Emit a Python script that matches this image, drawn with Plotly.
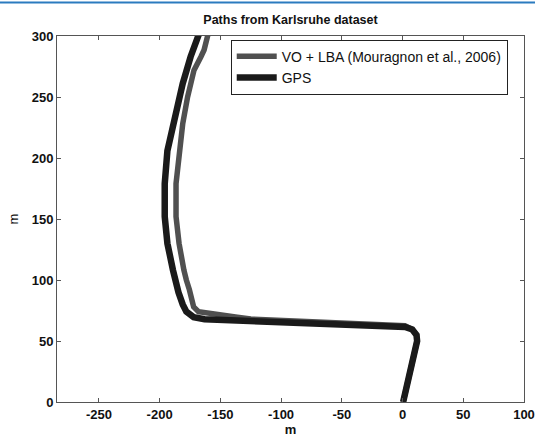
import plotly.graph_objects as go

# GPS ground-truth path (m)
gps_x = [0.5, 3, 5.5, 8, 10, 12, 11.5, 8, 2, -25, -55, -80, -105, -138, -163, -172,
         -178, -181, -184.5, -189, -193.6, -195.8, -195.8, -193.6, -191, -187, -181,
         -174.5, -167.5, -166]
gps_y = [0, 10, 20, 30, 40, 50, 55, 59.5, 61.5, 62.5, 63.5, 64.5, 65.5, 66.7, 67.8, 69.5,
         74, 80, 90, 108, 130, 152, 179, 206, 217, 239, 261, 283, 302, 306]

# VO + LBA path (m)
vo_x = [0.5, 3, 5.5, 8, 10, 12, 11.5, 8, 2, -25, -55, -80, -105, -125, -136, -152, -163,
        -168, -172, -174, -175.5, -178, -180, -184, -186.5, -186.5, -184, -181, -177,
        -171.7, -166, -163.4, -160, -159]
vo_y = [0, 10, 20, 30, 40, 50, 55, 59.5, 62.5, 63.5, 64.5, 65.5, 66.5, 68, 69.4, 71.3, 72.5,
        74, 78, 84, 92, 100, 108, 130, 152, 179, 206, 228, 250, 272, 283, 288.5, 302, 306]

x_ticks = [-250, -200, -150, -100, -50, 0, 50, 100]
x_tick_text = ["-250", "-200", "-150", "-100", "-50", "0", "50", "100"]
y_ticks = [0, 50, 100, 150, 200, 250, 300]
y_tick_text = ["0", "50", "100", "150", "200", "250", "300"]

FONT = "Liberation Sans, Arial, sans-serif"

fig = go.Figure()
fig.add_trace(go.Scatter(x=vo_x, y=vo_y, mode="lines",
                         name="VO + LBA (Mouragnon et al., 2006)",
                         line=dict(color="#505050", width=5.5)))
fig.add_trace(go.Scatter(x=gps_x, y=gps_y, mode="lines", name="GPS",
                         line=dict(color="#1a1a1a", width=6.5)))

axis_common = dict(
    showgrid=False, zeroline=False, showline=True, linecolor="#555555", linewidth=1,
    mirror="ticks", ticks="inside", ticklen=4, tickcolor="#555555", automargin=False,
    tickfont=dict(family=FONT, size=13, color="#111111", weight="bold"),
)

fig.update_xaxes(range=[-284.5, 100], tickvals=x_ticks, ticktext=x_tick_text,
                 title=dict(text="m", font=dict(family=FONT, size=13, color="#111111", weight="bold"),
                            standoff=7),
                 **axis_common)
fig.update_yaxes(range=[0, 300], tickvals=y_ticks, ticktext=y_tick_text,
                 title=dict(text="m", font=dict(family=FONT, size=13, color="#111111"),
                            standoff=10),
                 **axis_common)

fig.update_layout(
    width=535, height=437,
    margin=dict(l=57, r=11, t=36, b=35),
    paper_bgcolor="white", plot_bgcolor="white",
    title=dict(text="<b>Paths from Karlsruhe dataset</b>", x=0.543, xanchor="center",
               y=1 - 20 / 437, yanchor="middle",
               font=dict(family=FONT, size=12.5, color="#111111")),
    legend=dict(x=0.372, y=0.99, xanchor="left", yanchor="top",
                bordercolor="#222222", borderwidth=1, bgcolor="white",
                font=dict(family=FONT, size=14, color="#111111"),
                itemwidth=40),
    showlegend=True,
    shapes=[dict(type="line", xref="paper", yref="paper",
                 x0=-57 / 467, x1=478 / 467, y0=1.0915, y1=1.0915,
                 line=dict(color="#2b7bbf", width=2))],
)

fig.write_html("out.html")
